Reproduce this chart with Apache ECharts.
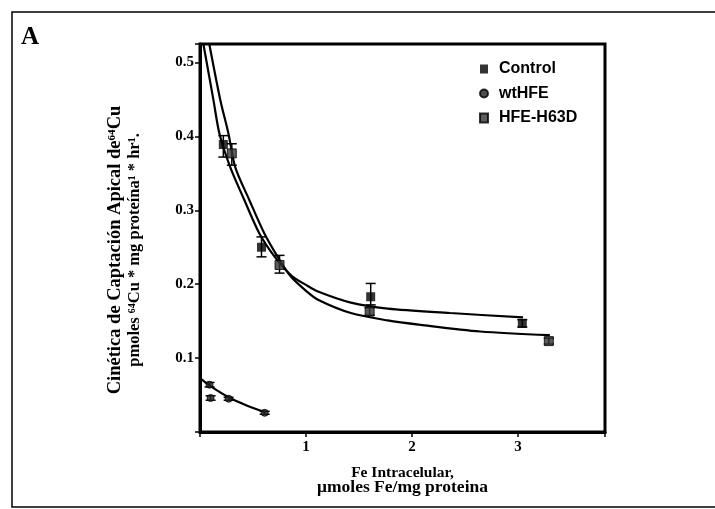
<!DOCTYPE html>
<html><head><meta charset="utf-8">
<script src="https://cdn.jsdelivr.net/npm/echarts@6/dist/echarts.min.js"></script>
<style>html,body{margin:0;padding:0;background:#fff}#c{width:715px;height:509px}</style>
</head><body><div id="c"></div>
<script>
// Data
var xTicks = [1, 2, 3];
var yTicks = [0.1, 0.2, 0.3, 0.4, 0.5];
// points: [x, y]
var controlPts = [[0.22, 0.389], [0.58, 0.250], [1.61, 0.183], [3.04, 0.147]];
var h63dPts    = [[0.30, 0.377], [0.75, 0.226], [1.60, 0.163], [3.29, 0.123]];
var wtPts      = [[0.09, 0.064], [0.10, 0.046], [0.27, 0.045], [0.61, 0.026]];
// error bars: [x, low, high]
var controlErr = [[0.22, 0.372, 0.401], [0.58, 0.237, 0.264], [1.61, 0.172, 0.201], [3.04, 0.142, 0.152]];
var h63dErr    = [[0.30, 0.361, 0.390], [0.75, 0.215, 0.239], [1.60, 0.158, 0.168], [3.29, 0.119, 0.127]];
var wtErr      = [[0.09, 0.061, 0.067], [0.10, 0.043, 0.049], [0.27, 0.043, 0.047], [0.61, 0.024, 0.028]];
// fitted curves
var controlFit = [[0.033,0.524],[0.127,0.449],[0.183,0.404],[0.286,0.358],[0.418,0.314],[0.559,0.269],[0.70,0.238],[0.859,0.212],[1.0,0.199],[1.113,0.190],[1.423,0.175],[1.77,0.167],[2.36,0.161],[3.047,0.155]];
var h63dFit    = [[0.089,0.524],[0.192,0.449],[0.268,0.404],[0.333,0.358],[0.465,0.314],[0.606,0.269],[0.75,0.233],[0.859,0.210],[1.0,0.191],[1.113,0.179],[1.423,0.161],[1.77,0.151],[2.08,0.145],[2.643,0.136],[3.30,0.131]];
var wtFit      = [[0.0,0.073],[0.11,0.061],[0.27,0.047],[0.44,0.036],[0.61,0.027]];

var chart = echarts.init(document.getElementById('c'));
function errSeries(data){
  return {
    type:'custom', data:data, z:5, silent:true,
    renderItem:function(params, api){
      var x = api.value(0), lo = api.value(1), hi = api.value(2);
      var p1 = api.coord([x, lo]), p2 = api.coord([x, hi]);
      var w = 5;
      var st = {stroke:'#000', lineWidth:1.5};
      return {type:'group', children:[
        {type:'line', shape:{x1:p1[0],y1:p1[1],x2:p2[0],y2:p2[1]}, style:st},
        {type:'line', shape:{x1:p1[0]-w,y1:p1[1],x2:p1[0]+w,y2:p1[1]}, style:st},
        {type:'line', shape:{x1:p2[0]-w,y1:p2[1],x2:p2[0]+w,y2:p2[1]}, style:st}
      ]};
    }
  };
}
function fitSeries(data){
  return {type:'line', data:data, smooth:0.3, showSymbol:false, symbol:'none', silent:true,
    lineStyle:{color:'#000', width:2.2}, clip:true, z:3};
}
function isTick(list, v){
  for (var i = 0; i < list.length; i++) { if (Math.abs(list[i] - v) < 1e-6) return true; }
  return false;
}
var serif = 'Liberation Serif, Times New Roman, serif';
chart.setOption({
  animation:false,
  backgroundColor:'#fff',
  grid:{left:200, top:44, right:110, bottom:77, show:true, borderColor:'#000', borderWidth:3, backgroundColor:'transparent'},
  xAxis:{type:'value', min:0, max:3.82, interval:1,
    axisLine:{lineStyle:{color:'#000', width:3}},
    axisTick:{show:true, length:5, lineStyle:{color:'#000', width:1.5}},
    splitLine:{show:false},
    axisLabel:{color:'#000', fontFamily:serif, fontWeight:'bold', fontSize:15, margin:8,
      formatter:function(v){ return isTick(xTicks, v) ? String(v) : ''; }},
    name:'{a|Fe Intracelular,}\n{b|μmoles Fe/mg proteina}', nameLocation:'middle', nameGap:33,
    nameTextStyle:{color:'#000', fontFamily:serif, fontWeight:'bold', fontSize:15, lineHeight:15,
      rich:{a:{fontFamily:serif, fontWeight:'bold', fontSize:15.5, lineHeight:15, color:'#000'},
            b:{fontFamily:serif, fontWeight:'bold', fontSize:17.5, lineHeight:15, color:'#000'}}}
  },
  yAxis:{type:'value', min:0, max:0.525, interval:0.1,
    axisLine:{lineStyle:{color:'#000', width:3}},
    axisTick:{show:true, length:5, lineStyle:{color:'#000', width:1.5}},
    splitLine:{show:false},
    axisLabel:{color:'#000', fontFamily:serif, fontWeight:'bold', fontSize:15, margin:6,
      formatter:function(v){ return isTick(yTicks, v) ? v.toFixed(1) : ''; }},
    name:'{a|Cinética de Captación Apical de⁶⁴Cu}\n{b|pmoles ⁶⁴Cu * mg proteína¹ * hr¹.}', nameLocation:'middle', nameGap:55, nameRotate:90,
    nameTextStyle:{color:'#000', fontFamily:serif, fontWeight:'bold', fontSize:18, lineHeight:20, padding:[0,24,0,0],
      rich:{a:{fontFamily:serif, fontWeight:'bold', fontSize:18.5, lineHeight:20, color:'#000'},
            b:{fontFamily:serif, fontWeight:'bold', fontSize:16.5, lineHeight:20, color:'#000'}}}
  },
  legend:{show:true, orient:'vertical', left:474, top:56, itemWidth:8, itemHeight:9, itemGap:8.5,
    data:[{name:'Control', icon:'rect'}, {name:'wtHFE', icon:'circle'}, {name:'HFE-H63D', icon:'rect'}],
    textStyle:{color:'#000', fontFamily:'Liberation Sans, Arial, sans-serif', fontWeight:'bold', fontSize:16, padding:[0,0,0,6]}
  },
  graphic:[
    {type:'rect', shape:{x:12, y:12, width:720, height:495}, style:{fill:'none', stroke:'#000', lineWidth:1.5}, silent:true},
    {type:'text', left:21, top:25, style:{text:'A', fill:'#000', font:'bold 25px Liberation Serif, serif'}}
  ],
  series:[
    fitSeries(controlFit), fitSeries(h63dFit), fitSeries(wtFit),
    errSeries(controlErr), errSeries(h63dErr), errSeries(wtErr),
    {name:'Control', type:'scatter', data:controlPts, symbol:'rect', symbolSize:9, itemStyle:{color:'#000'}, z:6},
    {name:'wtHFE', type:'scatter', data:wtPts, symbol:'circle', symbolSize:7, itemStyle:{color:'#222', borderColor:'#000', borderWidth:1}, z:6},
    {name:'HFE-H63D', type:'scatter', data:h63dPts, symbol:'rect', symbolSize:9, itemStyle:{color:'#333', borderColor:'#000', borderWidth:1}, z:6}
  ]
});
</script></body></html>
